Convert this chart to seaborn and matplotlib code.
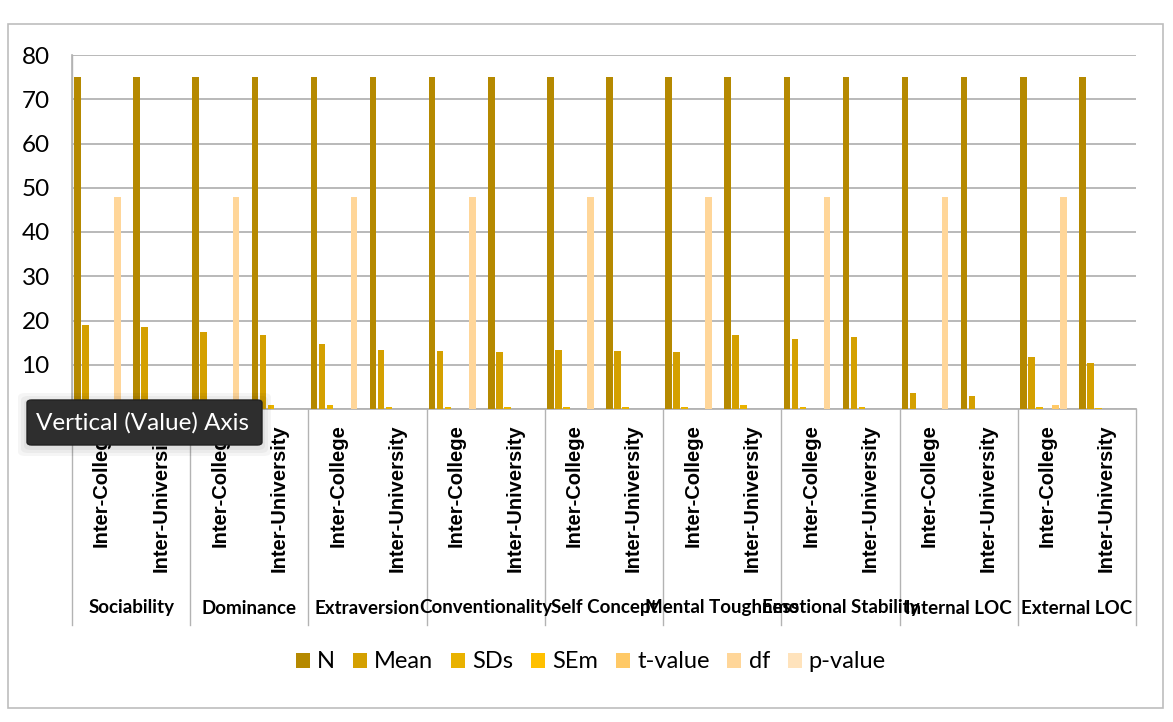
import numpy as np
import pandas as pd
import seaborn as sns
from matplotlib import pyplot as plt
from matplotlib.patches import Rectangle, FancyBboxPatch
from matplotlib.transforms import blended_transform_factory

# traits and groups
categories = ['Sociability', 'Dominance', 'Extraversion', 'Conventionality', 'Self Concept',
              'Mental Toughness', 'Emotional Stability', 'Internal LOC', 'External LOC']
groups = ['Inter-College', 'Inter-University']
stats = ['N', 'Mean', 'SDs', 'SEm', 't-value', 'df', 'p-value']
colors = ['#B58900', '#D4A000', '#E9B200', '#FFC000', '#FFC966', '#FFD699', '#FFE3BC']

# values per (trait, group), order: Soc IC, Soc IU, Dom IC, Dom IU, ...
n_vals = [75, 75, 75, 75, 75, 75, 75, 75, 75, 75, 75, 75, 75, 75, 75, 75, 75, 75]
mean_vals = [18.9, 18.6, 17.3, 16.7, 14.8, 13.4, 13.2, 12.9, 13.4, 13.2,
             12.9, 16.8, 15.9, 16.3, 3.7, 3.05, 11.8, 10.3]
sd_vals = [0.5, 0.5, 0.5, 0.8, 0.8, 0.5, 0.5, 0.5, 0.5, 0.5,
           0.5, 0.8, 0.5, 0.5, 0.0, 0.0, 0.5, 0.3]
sem_vals = [0.06, 0.06, 0.06, 0.09, 0.09, 0.06, 0.06, 0.06, 0.06, 0.06,
            0.06, 0.09, 0.06, 0.06, 0.0, 0.0, 0.06, 0.03]
t_vals = [0.0, np.nan, 0.0, np.nan, 0.0, np.nan, 0.0, np.nan, 0.0, np.nan,
          0.0, np.nan, 0.0, np.nan, 0.0, np.nan, 0.8, np.nan]
df_vals = [48, np.nan, 48, np.nan, 48, np.nan, 48, np.nan, 48, np.nan,
           48, np.nan, 48, np.nan, 48, np.nan, 48, np.nan]
p_vals = [0.0, np.nan, 0.0, np.nan, 0.0, np.nan, 0.0, np.nan, 0.0, np.nan,
          0.0, np.nan, 0.0, np.nan, 0.0, np.nan, 0.0, np.nan]

slots = [c + '|' + g for c in categories for g in groups]
wide = pd.DataFrame({'slot': slots, 'N': n_vals, 'Mean': mean_vals, 'SDs': sd_vals,
                     'SEm': sem_vals, 't-value': t_vals, 'df': df_vals, 'p-value': p_vals})
data = wide.melt(id_vars='slot', var_name='stat', value_name='value').dropna()

W, H = 1173, 722
fig = plt.figure(figsize=(W / 100, H / 100), dpi=100)
ax = fig.add_axes([72 / W, 1 - 409 / H, (1136 - 72) / W, (409 - 55) / H])

sns.barplot(data=data, x='slot', y='value', hue='stat', order=slots, hue_order=stats,
            palette=colors, width=0.95, gap=0.18, saturation=1, errorbar=None,
            linewidth=0, ax=ax, zorder=3)

ax.set_xlim(-0.5, len(slots) - 0.5)
ax.set_ylim(0, 80)
ax.set_yticks(range(0, 81, 10))
ax.yaxis.grid(True, color='#b3b3b3', linewidth=1.3, zorder=0)
ax.set_axisbelow(True)
for s in ['top', 'right']:
    ax.spines[s].set_visible(False)
ax.spines['left'].set_color('#b3b3b3')
ax.spines['bottom'].set_color('#b3b3b3')
ax.spines['left'].set_linewidth(1.2)
ax.spines['bottom'].set_linewidth(1.3)
ax.set_xlabel('')
ax.set_ylabel('')
ax.set_xticks(range(len(slots)))
ax.set_xticklabels([s.split('|')[1] for s in slots], rotation=90, fontsize=14.5,
                   fontweight='bold', family='Liberation Sans')
ax.tick_params(axis='x', length=0, pad=11)
ax.tick_params(axis='y', length=0, pad=16)
for lab in ax.get_yticklabels():
    lab.set_family('Lato')
    lab.set_fontsize(17.5)

trans = blended_transform_factory(ax.transData, ax.transAxes)
bottom = -(625 - 409) / (409 - 55)
for k in range(len(categories) + 1):
    top = 1 if k == 0 else 0
    ax.plot([2 * k - 0.5, 2 * k - 0.5], [top, bottom], transform=trans, color='#b3b3b3',
            linewidth=1.0, clip_on=False)
for k, c in enumerate(categories):
    ax.text(2 * k + 0.5, -(608 - 409) / (409 - 55), c, transform=trans, ha='center',
            va='center', fontsize=13.5, fontweight='bold', family='Lato')

handles, labels = ax.get_legend_handles_labels()
ax.legend(handles, labels, ncol=7, frameon=False, loc='center',
          bbox_to_anchor=(591 / W, 1 - 662 / H), bbox_transform=fig.transFigure,
          prop={'family': 'Lato', 'size': 17}, handlelength=0.6, handleheight=0.6,
          handletextpad=0.3, columnspacing=0.75)

# outer chart frame
fig.patches.append(Rectangle((8 / W, 1 - 708 / H), (1163 - 8) / W, (708 - 24) / H,
                             transform=fig.transFigure, fill=False, edgecolor='#bdbdbd',
                             linewidth=1.2))
# hover tooltip with a soft shadow
for i, a in enumerate([0.04, 0.04, 0.04]):
    d = (i + 1) * 3
    fig.patches.append(FancyBboxPatch(((27 - d) / W, 1 - (445 + d + 2) / H),
                                      (262 - 27 + 2 * d) / W, (45 + 2 * d) / H,
                                      boxstyle='round,pad=0,rounding_size=0.006',
                                      transform=fig.transFigure, facecolor='black',
                                      edgecolor='none', alpha=a, zorder=9))
fig.patches.append(FancyBboxPatch((27 / W, 1 - 445 / H), (262 - 27) / W, (445 - 400) / H,
                                  boxstyle='round,pad=0,rounding_size=0.004',
                                  transform=fig.transFigure, facecolor='#2e2e2e',
                                  edgecolor='#222222', linewidth=1, zorder=10))
fig.text(36 / W, 1 - 423 / H, 'Vertical (Value) Axis', color='white', fontsize=17.5,
         family='Lato', ha='left', va='center', zorder=11)

fig.savefig('out.png', dpi=100)
